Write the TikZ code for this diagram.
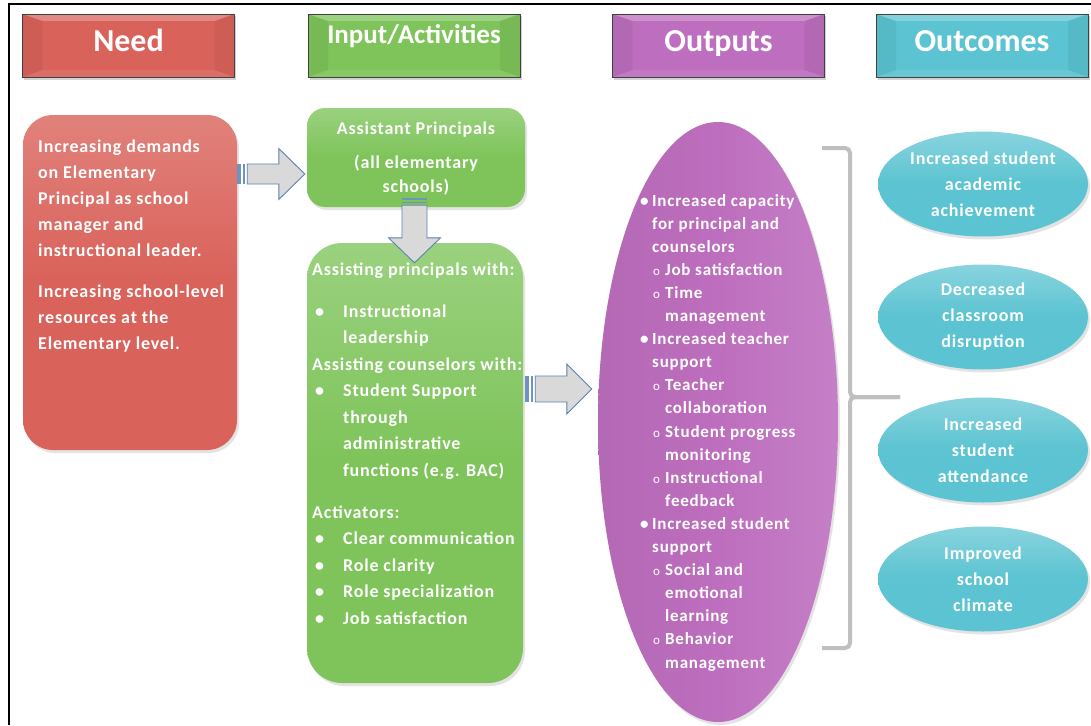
\documentclass[tikz,border=0pt]{standalone}
\usepackage{fontspec}
\setmainfont{Carlito}
\newfontfamily\bodyfont{Carlito}[LetterSpace=4.5]
\usetikzlibrary{shapes.geometric,shadows,calc}
\definecolor{needc}{HTML}{D9625A}
\definecolor{greenc}{HTML}{7EC45A}
\definecolor{purpc}{HTML}{BD6EBE}
\definecolor{tealc}{HTML}{5BC3D1}
\definecolor{arrfill}{HTML}{D9D9D9}
\definecolor{arrline}{HTML}{5A82B0}
\definecolor{stripec}{HTML}{6E93BF}
\definecolor{bracec}{HTML}{BFBFBF}
\tikzset{
  hdr/.style={rectangle, draw=black!75, line width=0.8pt, minimum width=212pt,
    minimum height=63pt, inner sep=0pt,
    drop shadow={opacity=.35, shadow xshift=1.5pt, shadow yshift=-2.5pt},
    path picture={
      \fill[white,opacity=.25] (path picture bounding box.north west) -- (path picture bounding box.north east)
        -- ([xshift=-20pt,yshift=-7pt]path picture bounding box.north east) -- ([xshift=20pt,yshift=-7pt]path picture bounding box.north west) -- cycle;
      \fill[black,opacity=.05] (path picture bounding box.north west) -- ([xshift=20pt,yshift=-7pt]path picture bounding box.north west)
        -- ([xshift=20pt,yshift=7pt]path picture bounding box.south west) -- (path picture bounding box.south west) -- cycle;
      \fill[black,opacity=.05] (path picture bounding box.north east) -- ([xshift=-20pt,yshift=-7pt]path picture bounding box.north east)
        -- ([xshift=-20pt,yshift=7pt]path picture bounding box.south east) -- (path picture bounding box.south east) -- cycle;
      \fill[white,opacity=.08] (path picture bounding box.south west) -- (path picture bounding box.south east)
        -- ([xshift=-20pt,yshift=7pt]path picture bounding box.south east) -- ([xshift=20pt,yshift=7pt]path picture bounding box.south west) -- cycle;
    }},
  hdrtxt/.style={text=white, font=\fontsize{32}{32}\selectfont\bfseries, anchor=base, inner sep=0pt},
  rbox/.style={rectangle, rounded corners=#1, draw=none, inner sep=0pt,
    drop shadow={opacity=.22, shadow xshift=2pt, shadow yshift=-3pt}},
  oval/.style={ellipse, draw=none, inner sep=0pt,
    drop shadow={opacity=.22, shadow xshift=2pt, shadow yshift=-3pt}},
  txt/.style={inner sep=0pt, text=white, anchor=base west},
  arrowst/.style={fill=arrfill, draw=arrline, line width=0.9pt, line join=miter},
  bracest/.style={draw=bracec, line width=4pt, rounded corners=5pt},
}
\newcommand\gbul[1]{\hspace*{3pt}\makebox[28pt][l]{•}#1}
\newcommand\gcont[1]{\hspace*{31pt}#1}
\newcommand\pbul[1]{\makebox[12pt][l]{•}#1}
\newcommand\pcont[1]{\hspace*{12pt}#1}
\newcommand\psub[1]{\hspace*{13pt}\makebox[12pt][l]{\fontsize{13}{13}\selectfont\mdseries o}#1}
\newcommand\pscont[1]{\hspace*{25pt}#1}
\newcommand\rarrow[5]{%
  \fill[stripec] ($(#1)+(0,-#3)$) rectangle ($(#1)+(4,#3)$);
  \fill[stripec] ($(#1)+(6,-#3)$) rectangle ($(#1)+(8,#3)$);
  \draw[arrowst] ($(#1)+(10,-#3)$) -- ($(#2)+(-#5,-#3)$) -- ($(#2)+(-#5,-#4)$) -- (#2)
     -- ($(#2)+(-#5,#4)$) -- ($(#2)+(-#5,#3)$) -- ($(#1)+(10,#3)$) -- cycle;}
\newcommand\darrow[5]{%
  \fill[stripec] ($(#1)+(-#3,0)$) rectangle ($(#1)+(#3,2)$);
  \fill[stripec] ($(#1)+(-#3,3.5)$) rectangle ($(#1)+(#3,5)$);
  \draw[arrowst] ($(#1)+(-#3,7)$) -- ($(#2)+(-#3,-#5)$) -- ($(#2)+(-#4,-#5)$) -- (#2)
     -- ($(#2)+(#4,-#5)$) -- ($(#2)+(#3,-#5)$) -- ($(#1)+(#3,7)$) -- cycle;}
\begin{document}
\begin{tikzpicture}[x=1pt,y=-1pt]
\useasboundingbox[fill=white] (0,0) rectangle (1091,725);
% frame
\draw[line width=1.8pt] (1091,4) -- (9,4) -- (9,725);
% headers
\node[hdr, fill=needc] (hneed) at (128.5,45.5) {};
\node[hdr, fill=greenc] (hinput) at (414,45.5) {};
\node[hdr, fill=purpc] (houtp) at (718.5,45.5) {};
\node[hdr, fill=tealc] (houtc) at (982,45.5) {};
\node[hdrtxt] (tneed) at (128.5,52) {Need};
\node[hdrtxt, font=\fontsize{27}{27}\selectfont\bfseries] (tinput) at (414,44) {Input/Activities};
\node[hdrtxt] (toutp) at (718.5,52) {Outputs};
\node[hdrtxt] (toutc) at (982,52) {Outcomes};
% main shapes
\node[rbox=30pt, minimum width=214pt, minimum height=335pt, top color=needc!80!white, bottom color=needc, middle color=needc] (need) at (130,282.5) {};
\node[rbox=18pt, minimum width=218pt, minimum height=99pt, top color=greenc!78!white, bottom color=greenc, middle color=greenc] (ap) at (416,157.5) {};
\node[rbox=35pt, minimum width=216pt, minimum height=440pt, top color=greenc!78!white, bottom color=greenc, middle color=greenc] (acts) at (415,463) {};
\node[oval, minimum width=240pt, minimum height=600pt, left color=purpc!95!black, right color=purpc!88!white, middle color=purpc] (outp) at (718,422) {};
% outcome ellipses
\begin{scope}[every node/.style={oval, minimum width=210pt, minimum height=105pt, top color=tealc!72!white, bottom color=tealc, middle color=tealc, text=white, align=center, font=\bodyfont\bfseries\fontsize{18}{26}\selectfont}]
\node (oc1) at (983,184) {Increased student\\academic\\achievement};
\node (oc2) at (983,317) {Decreased\\classroom\\disruption};
\node (oc3) at (983,450) {Increased\\student\\attendance};
\node (oc4) at (983,579) {Improved\\school\\climate};
\end{scope}
% texts
\node[txt, font=\bodyfont\bfseries\fontsize{18}{26}\selectfont] (needtxt) at (38,152) {\parbox[t]{200pt}{\raggedright
Increasing demands\\
on Elementary\\
Principal as school\\
manager and\\
instructional leader.\\[15pt]
Increasing school-level\\
resources at the\\
Elementary level.}};
\node[txt, anchor=base, font=\bodyfont\bfseries\fontsize{18}{24}\selectfont] (aptxt) at (416,134) {\parbox[t]{210pt}{\centering
Assistant Principals\\[10pt]
(all elementary\\
schools)}};
\node[txt, font=\bodyfont\bfseries\fontsize{18}{26.5}\selectfont] (actstxt) at (312,275) {\parbox[t]{215pt}{\raggedright
Assisting principals with:\\[15.5pt]
\gbul{Instructional}\\
\gcont{leadership}\\
Assisting counselors with:\\
\gbul{Student Support}\\
\gcont{through}\\
\gcont{administrative}\\
\gcont{functions (e.g. BAC)}\\[15.5pt]
Activators:\\
\gbul{Clear communication}\\
\gbul{Role clarity}\\
\gbul{Role specialization}\\
\gbul{Job satisfaction}}};
\node[txt, font=\bodyfont\bfseries\fontsize{17}{23.1}\selectfont] (outptxt) at (640,206) {\parbox[t]{190pt}{\raggedright
\pbul{Increased capacity}\\
\pcont{for principal and}\\
\pcont{counselors}\\
\psub{Job satisfaction}\\
\psub{Time}\\
\pscont{management}\\
\pbul{Increased teacher}\\
\pcont{support}\\
\psub{Teacher}\\
\pscont{collaboration}\\
\psub{Student progress}\\
\pscont{monitoring}\\
\psub{Instructional}\\
\pscont{feedback}\\
\pbul{Increased student}\\
\pcont{support}\\
\psub{Social and}\\
\pscont{emotional}\\
\pscont{learning}\\
\psub{Behavior}\\
\pscont{management}}};
% arrows
\coordinate (a1s) at (need.east |- 0,174);
\coordinate (a1e) at ($(ap.west |- 0,174)+(-2,0)$);
\rarrow{a1s}{a1e}{10}{25.5}{26}
\coordinate (a2s) at ($(ap.south)+(-1.5,-9)$);
\coordinate (a2e) at ($(a2s |- acts.north)+(0,20)$);
\darrow{a2s}{a2e}{12.5}{26}{25}
\coordinate (a3s) at ($(acts.east |- 0,389)+(2,0)$);
\coordinate (a3e) at ($(outp.west |- 0,389)+(-6,0)$);
\rarrow{a3s}{a3e}{13}{25}{25}
% bracket
\draw[bracest] (822,148) -| (850,397) -- (900,397);
\draw[bracest] (900,397) -| (850,648) -- (822,648);
\end{tikzpicture}
\end{document}
